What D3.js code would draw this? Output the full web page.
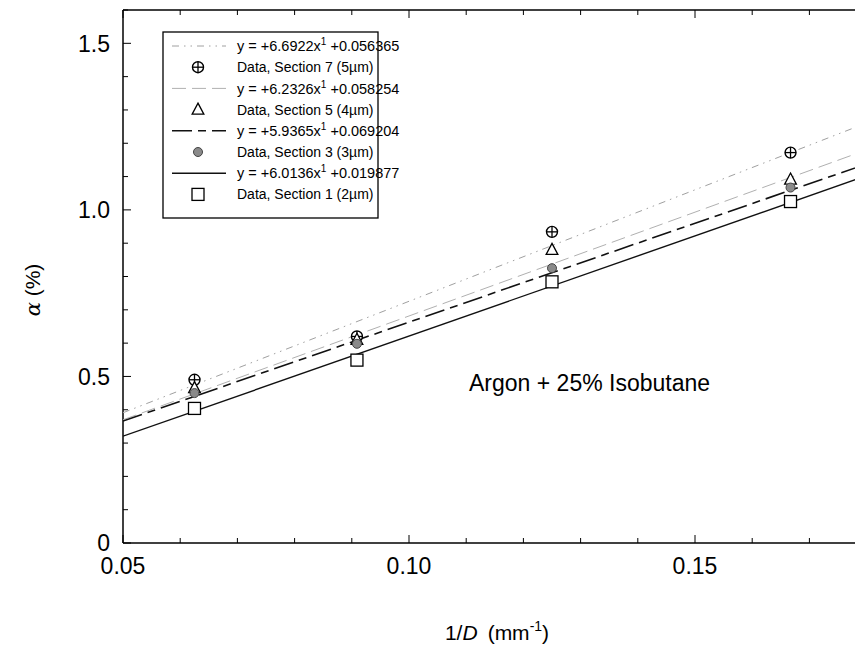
<!DOCTYPE html>
<html><head><meta charset="utf-8">
<script src="https://cdn.jsdelivr.net/npm/d3@7"></script>
<style>body{margin:0;background:#fff}svg{display:block;font-family:"Liberation Sans",Arial,sans-serif}</style>
</head><body><svg id="c" width="855" height="651"></svg>
<script>
const xValues = [0.0625, 0.0909, 0.125, 0.1667];
const sectionNames = ["Data, Section 7 (5\u00b5m)", "Data, Section 5 (4\u00b5m)", "Data, Section 3 (3\u00b5m)", "Data, Section 1 (2\u00b5m)"];
const sec7 = [0.49, 0.62, 0.934, 1.172];
const sec5 = [0.465, 0.61, 0.880, 1.091];
const sec3 = [0.45, 0.598, 0.825, 1.067];
const sec1 = [0.404, 0.549, 0.784, 1.025];
const slopes = [6.6922, 6.2326, 5.9365, 6.0136];
const intercepts = [0.056365, 0.058254, 0.069204, 0.019877];
const slopeLabels = ["+6.6922", "+6.2326", "+5.9365", "+6.0136"];
const interceptLabels = ["+0.056365", "+0.058254", "+0.069204", "+0.019877"];
const xTicks = [0.05, 0.10, 0.15];
const yTicks = [0, 0.5, 1.0, 1.5];

const svg = d3.select("#c");
const x = d3.scaleLinear().domain([0.05, 0.2]).range([123, 981]);
const y = d3.scaleLinear().domain([0, 1.6]).range([543, 10]);

const series = [
  {vals: sec7, marker: "oplus", line: {stroke: "#a0a0a0", w: 1, dash: "7,5,1.5,5,1.5,5"}},
  {vals: sec5, marker: "tri", line: {stroke: "#b0b0b0", w: 1, dash: "14,6"}},
  {vals: sec3, marker: "gcirc", line: {stroke: "#111", w: 1.6, dash: "20,6,8,6"}},
  {vals: sec1, marker: "sq", line: {stroke: "#111", w: 1.4, dash: null}}
];

const g = svg.append("g");
g.append("line").attr("x1", x(0.05)).attr("x2", 855).attr("y1", y(0)).attr("y2", y(0)).attr("stroke", "#000").attr("stroke-width", 1.5);
g.append("line").attr("x1", x(0.05)).attr("x2", 855).attr("y1", y(1.6)).attr("y2", y(1.6)).attr("stroke", "#000").attr("stroke-width", 1.5);
g.append("line").attr("x1", x(0.05)).attr("x2", x(0.05)).attr("y1", y(0)).attr("y2", y(1.6)).attr("stroke", "#000").attr("stroke-width", 1.5);

const yMinor = d3.range(0, 1.61, 0.1);
yMinor.forEach(v => {
  const major = yTicks.some(t => Math.abs(t - v) < 1e-6);
  g.append("line").attr("x1", x(0.05)).attr("x2", x(0.05) + (major ? 8 : 5))
    .attr("y1", y(v)).attr("y2", y(v)).attr("stroke", "#000").attr("stroke-width", 1);
});
yTicks.forEach(v => {
  g.append("text").attr("x", 110).attr("y", y(v)).attr("dy", "0.36em").attr("text-anchor", "end")
    .attr("font-size", 23).text(v === 0 ? "0" : v.toFixed(1));
});
const xMinor = d3.range(0.05, 0.2, 0.01);
xMinor.forEach(v => {
  const major = xTicks.some(t => Math.abs(t - v) < 1e-6);
  const L = major ? 8 : 5;
  g.append("line").attr("x1", x(v)).attr("x2", x(v)).attr("y1", y(0)).attr("y2", y(0) - L).attr("stroke", "#000");
  g.append("line").attr("x1", x(v)).attr("x2", x(v)).attr("y1", y(1.6)).attr("y2", y(1.6) + L).attr("stroke", "#000");
});
xTicks.forEach(v => {
  g.append("text").attr("x", x(v)).attr("y", 574).attr("text-anchor", "middle").attr("font-size", 23).text(v.toFixed(2));
});

const xl = svg.append("text").attr("x", 497).attr("y", 640).attr("text-anchor", "middle").attr("font-size", 21);
xl.append("tspan").text("1/");
xl.append("tspan").attr("font-style", "italic").text("D");
xl.append("tspan").text("\u2009 (mm");
xl.append("tspan").attr("font-size", 14).attr("dy", -9).text("-1");
xl.append("tspan").attr("dy", 9).text(")");

const yl = svg.append("text").attr("transform", "translate(40,290) rotate(-90)").attr("text-anchor", "middle").attr("font-size", 21);
yl.append("tspan").attr("font-style", "italic").attr("font-family", "'DejaVu Serif',serif").text("\u03b1");
yl.append("tspan").text(" (%)");

svg.append("clipPath").attr("id", "pc").append("rect")
  .attr("x", x(0.05)).attr("y", y(1.6)).attr("width", 855 - x(0.05)).attr("height", y(0) - y(1.6));
const lg = svg.append("g").attr("clip-path", "url(#pc)");
const lineGen = d3.line().x(d => x(d[0])).y(d => y(d[1]));
series.forEach((s, i) => {
  const pts = [0.05, 0.2].map(v => [v, slopes[i] * v + intercepts[i]]);
  lg.append("path").attr("d", lineGen(pts)).attr("fill", "none")
    .attr("stroke", s.line.stroke).attr("stroke-width", s.line.w)
    .attr("stroke-dasharray", s.line.dash);
});

function drawMarker(sel, type, cx, cy) {
  if (type === "oplus") {
    sel.append("circle").attr("cx", cx).attr("cy", cy).attr("r", 5.5).attr("fill", "#fff").attr("stroke", "#000").attr("stroke-width", 1.4);
    sel.append("line").attr("x1", cx - 5.5).attr("x2", cx + 5.5).attr("y1", cy).attr("y2", cy).attr("stroke", "#000").attr("stroke-width", 1.3);
    sel.append("line").attr("x1", cx).attr("x2", cx).attr("y1", cy - 5.5).attr("y2", cy + 5.5).attr("stroke", "#000").attr("stroke-width", 1.3);
  } else if (type === "tri") {
    const r = 6.5;
    sel.append("path").attr("d", `M${cx},${cy - r}L${cx + r * 0.9},${cy + r * 0.7}L${cx - r * 0.9},${cy + r * 0.7}Z`)
      .attr("fill", "#fff").attr("stroke", "#000").attr("stroke-width", 1.3);
  } else if (type === "gcirc") {
    sel.append("circle").attr("cx", cx).attr("cy", cy).attr("r", 4.5).attr("fill", "#8a8a8a").attr("stroke", "#444").attr("stroke-width", 1);
  } else {
    sel.append("rect").attr("x", cx - 6).attr("y", cy - 6).attr("width", 12).attr("height", 12)
      .attr("fill", "#fff").attr("stroke", "#000").attr("stroke-width", 1.3);
  }
}
const mg = svg.append("g");
series.forEach(s => {
  s.vals.forEach((v, j) => drawMarker(mg, s.marker, x(xValues[j]), y(v)));
});

const leg = svg.append("g");
leg.append("rect").attr("x", 163).attr("y", 32).attr("width", 215).attr("height", 186)
  .attr("fill", "#fff").attr("stroke", "#000").attr("stroke-width", 1.3);
const rowY = i => 46 + i * 21.2;
series.forEach((s, i) => {
  const yl1 = rowY(2 * i), yl2 = rowY(2 * i + 1);
  leg.append("line").attr("x1", 172).attr("x2", 226).attr("y1", yl1).attr("y2", yl1)
    .attr("stroke", s.line.stroke).attr("stroke-width", s.line.w).attr("stroke-dasharray", s.line.dash);
  const t = leg.append("text").attr("x", 237).attr("y", yl1).attr("dy", "0.36em").attr("font-size", 14.5);
  t.append("tspan").text(`y = ${slopeLabels[i]}x`);
  t.append("tspan").attr("font-size", 10).attr("dy", -6).text("1");
  t.append("tspan").attr("dy", 6).text(` ${interceptLabels[i]}`);
  drawMarker(leg, s.marker, 198, yl2);
  leg.append("text").attr("x", 237).attr("y", yl2).attr("dy", "0.36em").attr("font-size", 14).text(sectionNames[i]);
});

svg.append("text").attr("x", 469).attr("y", 391).attr("font-size", 23).text("Argon + 25% Isobutane");
</script></body></html>
